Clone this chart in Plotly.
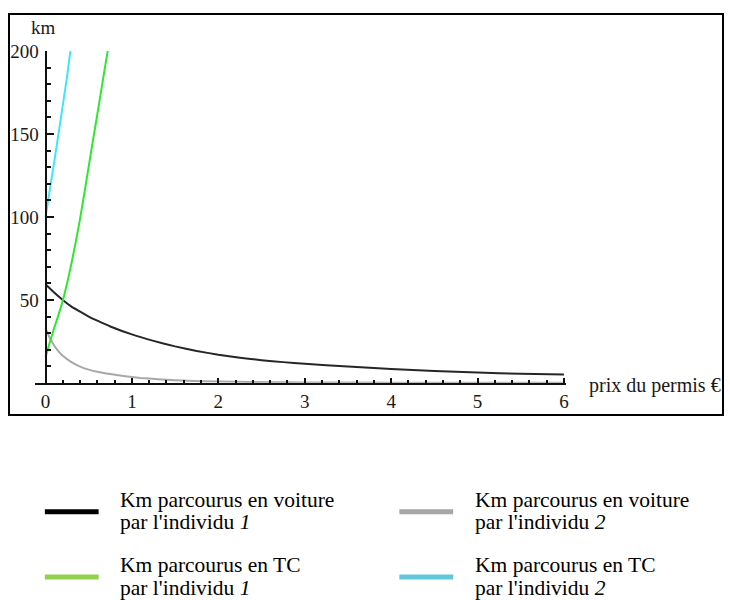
import plotly.graph_objects as go

# ---------------- data ----------------
x_voiture1 = [0, 0.1, 0.2, 0.3, 0.4, 0.5, 0.6, 0.75, 1.0, 1.25, 1.5, 1.75, 2.0, 2.25, 2.5,
              2.75, 3.0, 3.5, 4.0, 4.5, 5.0, 5.5, 6.0]
y_voiture1 = [59.5, 54.5, 50, 46, 43, 40, 37.5, 34, 29.2, 25.3, 22, 19.2, 17, 15.2, 13.7,
              12.5, 11.5, 9.8, 8.4, 7.2, 6.2, 5.5, 5.0]

x_voiture2 = [0, 0.05, 0.1, 0.15, 0.2, 0.3, 0.4, 0.5, 0.6, 0.75, 0.9, 1.1, 1.3, 1.5, 1.8,
              2.2, 2.6, 3.0, 4.0, 5.0, 6.0]
y_voiture2 = [33, 27, 22.5, 19, 16.3, 12.5, 9.8, 8, 6.7, 5.3, 4.2, 3.0, 2.2, 1.6, 1.0,
              0.6, 0.35, 0.25, 0.1, 0.05, 0.03]

x_tc1 = [0, 0.05, 0.1, 0.15, 0.2, 0.25, 0.3, 0.35, 0.4, 0.45, 0.5, 0.55, 0.6, 0.65, 0.7, 0.72]
y_tc1 = [15.5, 24.5, 33, 41, 49.5, 60, 72, 85, 99, 114.5, 130.5, 146.5, 162, 178, 194, 200]

x_tc2 = [0, 0.05, 0.1, 0.15, 0.2, 0.25, 0.288]
y_tc2 = [100, 116.5, 133, 150, 167.5, 185, 200]

curve_colors = ["#262626", "#a8a8a8", "#2ee82e", "#3ee6f6"]
legend_colors = ["#000000", "#a6a6a6", "#92d050", "#63c7dc"]
legend_line1 = ["Km parcourus en voiture", "Km parcourus en voiture",
                "Km parcourus en TC", "Km parcourus en TC"]
legend_line2 = ["par l'individu <i>1</i>", "par l'individu <i>2</i>",
                "par l'individu <i>1</i>", "par l'individu <i>2</i>"]

x_ticks = [0, 1, 2, 3, 4, 5, 6]
y_ticks = [50, 100, 150, 200]
x_label = "prix du permis €"
y_label = "km"

# ---------------- figure ----------------
W, H = 730, 600
ML, MR, MT, MB = 9, 4, 12, 185
PW, PH = W - ML - MR, H - MT - MB


def px_x(p):
    return (p - ML) / PW


def px_y(p):
    return (H - MB - p) / PH


FONT = "Liberation Serif, Times New Roman, serif"

fig = go.Figure()
series = [(x_voiture1, y_voiture1), (x_voiture2, y_voiture2), (x_tc1, y_tc1), (x_tc2, y_tc2)]
order = [1, 0, 2, 3]
for i in order:
    xs, ys = series[i]
    fig.add_trace(go.Scatter(x=xs, y=ys, mode="lines",
                             line=dict(color=curve_colors[i], width=2, shape="spline", smoothing=0.3),
                             showlegend=False, hoverinfo="skip"))

fig.update_layout(
    width=W, height=H,
    margin=dict(l=ML, r=MR, t=MT, b=MB),
    paper_bgcolor="white", plot_bgcolor="white",
    showlegend=False,
    font=dict(family=FONT, size=19, color="#1a1a1a"),
    xaxis=dict(
        domain=[px_x(35), px_x(568)],
        range=[-0.123, 6.02],
        tickvals=x_ticks,
        ticks="inside", ticklen=5, tickwidth=1.5, tickcolor="#111",
        minor=dict(ticks="inside", ticklen=3, tickwidth=1.5, tickcolor="#111", dtick=0.2, tick0=0, showgrid=False),
        showline=True, linecolor="#111", linewidth=2,
        showgrid=False, zeroline=False,
        ticklabelstandoff=0,
        tickfont=dict(family=FONT, size=19, color="#1a1a1a"),
        anchor="y",
    ),
    yaxis=dict(
        domain=[px_y(382.7), px_y(49.3)],
        range=[0, 200],
        tickvals=y_ticks,
        ticks="inside", ticklen=7, tickwidth=1.5, tickcolor="#111",
        minor=dict(ticks="inside", ticklen=4, tickwidth=1.5, tickcolor="#111", dtick=10, tick0=0, showgrid=False),
        showline=True, linecolor="#111", linewidth=2,
        showgrid=False, zeroline=False,
        ticklabelstandoff=2,
        tickfont=dict(family=FONT, size=19, color="#1a1a1a"),
        anchor="free", position=px_x(45.7),
    ),
)

shapes = [dict(type="rect", xref="paper", yref="paper", x0=0, y0=0, x1=1, y1=1,
               line=dict(color="black", width=2), fillcolor="rgba(0,0,0,0)")]
annotations = [
    dict(text=y_label, xref="paper", yref="paper", x=px_x(44), y=px_y(26),
         xanchor="center", yanchor="middle", showarrow=False,
         font=dict(family=FONT, size=19, color="#1a1a1a")),
    dict(text=x_label, xref="paper", yref="paper", x=px_x(589), y=px_y(385),
         xanchor="left", yanchor="middle", showarrow=False,
         font=dict(family=FONT, size=20, color="#1a1a1a")),
]

# legend (2 x 2 grid)
col_sw = [(45, 99), (401, 455)]
col_tx = [118, 475]
row_sw = [512.3, 577.7]
row_t1 = [500, 566]
row_t2 = [523, 589]
pos = [(0, 0), (0, 1), (1, 0), (1, 1)]  # (row, col) for each series
for i, (r, c) in enumerate(pos):
    shapes.append(dict(type="line", xref="paper", yref="paper",
                       x0=px_x(col_sw[c][0]), x1=px_x(col_sw[c][1]),
                       y0=px_y(row_sw[r]), y1=px_y(row_sw[r]),
                       line=dict(color=legend_colors[i], width=5)))
    annotations.append(dict(text=legend_line1[i], xref="paper", yref="paper",
                            x=px_x(col_tx[c]), y=px_y(row_t1[r]), xanchor="left", yanchor="middle",
                            showarrow=False, font=dict(family=FONT, size=21.5, color="black")))
    annotations.append(dict(text=legend_line2[i], xref="paper", yref="paper",
                            x=px_x(col_tx[c]), y=px_y(row_t2[r]), xanchor="left", yanchor="middle",
                            showarrow=False, font=dict(family=FONT, size=21.5, color="black")))

fig.update_layout(shapes=shapes, annotations=annotations)
fig.write_html("out.html", config={"displayModeBar": False},
               post_script="document.body.style.margin='0px';")
